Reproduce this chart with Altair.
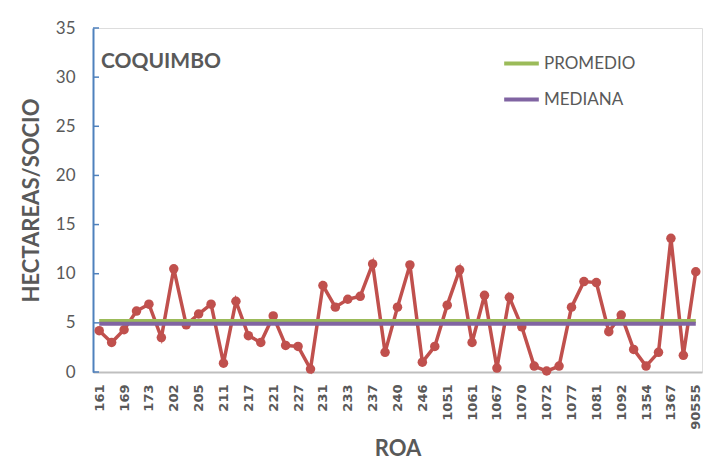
import altair as alt
import pandas as pd

roa_labels = ["161", "169", "173", "202", "205", "211", "217", "221", "227", "231",
              "233", "237", "240", "246", "1051", "1061", "1067", "1070", "1072",
              "1077", "1081", "1092", "1354", "1367", "90555"]

hect_socio = [4.2, 3.0, 4.3, 6.2, 6.9, 3.5, 10.5, 4.8, 5.9, 6.9,
              0.9, 7.2, 3.7, 3.0, 5.7, 2.7, 2.6, 0.3, 8.8, 6.6,
              7.4, 7.7, 11.0, 2.0, 6.6, 10.9, 1.0, 2.6, 6.8, 10.4,
              3.0, 7.8, 0.4, 7.6, 4.6, 0.6, 0.1, 0.6, 6.6, 9.2,
              9.1, 4.1, 5.8, 2.3, 0.6, 2.0, 13.6, 1.7, 10.2]

promedio = 5.2
mediana = 4.9
y_ticks = [0, 5, 10, 15, 20, 25, 30, 35]

FONT = "Lato"
GRAY = "#595959"

n = len(hect_socio)
full_labels = []
for k in range(n):
    full_labels.append(roa_labels[k // 2] if k % 2 == 0 else "")
label_js = "[" + ",".join("'" + s + "'" for s in full_labels) + "]"

df = pd.DataFrame({"i": list(range(n)), "v": hect_socio})
ref = pd.DataFrame({
    "i": list(range(n)) * 2,
    "serie": ["PROMEDIO"] * n + ["MEDIANA"] * n,
    "v": [promedio] * n + [mediana] * n,
})
ticks_df = pd.DataFrame({"t": y_ticks})

xenc = alt.X("i:O", title="ROA",
             scale=alt.Scale(type="point", padding=0.5),
             axis=alt.Axis(labelExpr=label_js + "[datum.value]", labelAngle=-90,
                           labelOverlap=False, labelFont="DejaVu Sans", labelFontSize=13,
                           labelFontWeight="bold", labelColor=GRAY, labelPadding=12,
                           ticks=False, domainColor="#BFBFBF", domainWidth=2,
                           titleFont=FONT, titleFontSize=22, titleFontWeight="bold",
                           titleColor=GRAY, titlePadding=9))
yscale = alt.Scale(domain=[0, 35])
yenc = alt.Y("v:Q", title="HECTAREAS/SOCIO", scale=yscale,
             axis=alt.Axis(values=y_ticks, grid=False, ticks=False,
                           labelFont=FONT, labelFontSize=17, labelColor=GRAY,
                           labelPadding=18, domainColor="#4F81BD", domainWidth=2,
                           titleFont=FONT, titleFontSize=22, titleFontWeight="bold",
                           titleColor=GRAY, titlePadding=12))

line = alt.Chart(df).mark_line(color="#C0504D", strokeWidth=3.5,
                               point=alt.OverlayMarkDef(color="#C0504D", size=90, filled=True, opacity=1)
                               ).encode(x=xenc, y=yenc)

refs = alt.Chart(ref).mark_line(strokeWidth=4).encode(
    x=alt.X("i:O", scale=alt.Scale(type="point", padding=0.5)),
    y=alt.Y("v:Q", scale=yscale),
    color=alt.Color("serie:N",
                    scale=alt.Scale(domain=["PROMEDIO", "MEDIANA"], range=["#9BBB59", "#8064A2"]),
                    legend=alt.Legend(title=None, orient="none", legendX=409, legendY=16,
                                      symbolType="stroke", symbolSize=1200, symbolStrokeWidth=4,
                                      labelFont=FONT, labelFontSize=17, labelColor=GRAY,
                                      labelOffset=3, rowPadding=8)),
)

inner_ticks = alt.Chart(ticks_df).mark_rule(color="#4F81BD", strokeWidth=1.5).encode(
    y=alt.Y("t:Q", scale=yscale),
    x=alt.value(0), x2=alt.value(6),
)

chart = alt.layer(line, refs, inner_ticks).properties(
    width=609, height=344,
    padding={"left": 12, "top": 11, "right": 5, "bottom": 2},
    title=alt.TitleParams("COQUIMBO", anchor="start", frame="group", dx=8, dy=57, fontSize=21,
                          fontWeight="bold", font=FONT, color=GRAY),
).configure_view(stroke="black", strokeWidth=1.5).configure(background="white")

chart.save("out.html", embed_options={"renderer": "svg", "actions": False})
